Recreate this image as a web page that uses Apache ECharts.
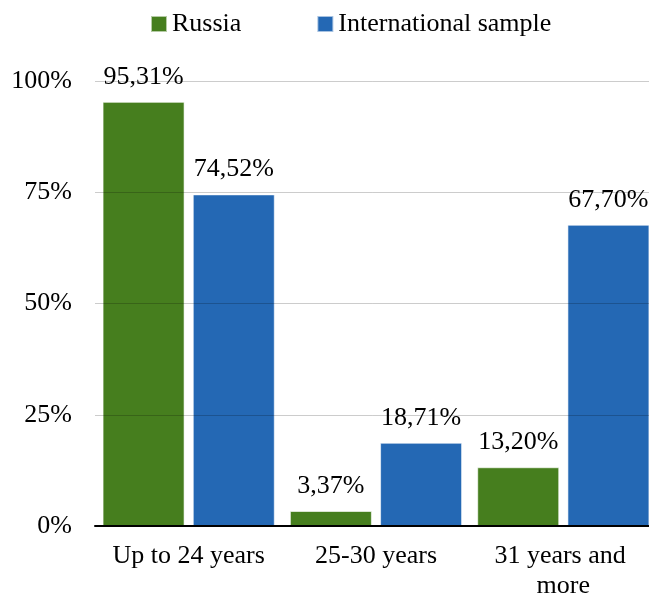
<!DOCTYPE html>
<html>
<head>
<meta charset="utf-8">
<script src="https://cdn.jsdelivr.net/npm/echarts@6/dist/echarts.min.js"></script>
<style>
  html, body { margin: 0; padding: 0; background: #fff; }
  #chart { width: 649px; height: 601px; }
</style>
</head>
<body>
<div id="chart"></div>
<script>
var categories = ["Up to 24 years", "25-30 years", "31 years and more"];
var seriesNames = ["Russia", "International sample"];
var russia = [95.31, 3.37, 13.20];
var international = [74.52, 18.71, 67.70];
var yTicks = [0, 25, 50, 75, 100];

var font = "'Liberation Serif', 'Times New Roman', serif";
var green = "#467e1e";
var blue = "#2468b4";

function fmt(v) {
  return v.toFixed(2).replace(".", ",") + "%";
}

var myChart = echarts.init(document.getElementById("chart"));

var barLabel = {
  show: true,
  position: "top",
  distance: 12,
  color: "#000",
  fontFamily: font,
  fontSize: 26,
  formatter: function (p) { return fmt(p.value); }
};

var option = {
  animation: false,
  backgroundColor: "#fff",
  textStyle: { fontFamily: font },
  legend: {
    data: seriesNames,
    left: 145,
    top: 6,
    itemWidth: 16,
    itemHeight: 16,
    itemGap: 75,
    icon: "rect",
    textStyle: { color: "#000", fontSize: 26, fontFamily: font }
  },
  grid: {
    left: 95,
    top: 81,
    width: 562,
    height: 445,
    outerBoundsMode: "none",
    containLabel: false
  },
  xAxis: {
    type: "category",
    data: categories,
    z: 5,
    axisLine: { show: true, lineStyle: { color: "#000", width: 2 } },
    axisTick: { show: false },
    axisLabel: {
      color: "#000",
      fontSize: 26,
      fontFamily: font,
      margin: 15,
      lineHeight: 30,
      width: 175,
      overflow: "break",
      interval: 0
    }
  },
  yAxis: {
    type: "value",
    min: yTicks[0],
    max: yTicks[yTicks.length - 1],
    interval: 25,
    z: 5,
    axisLine: { show: false },
    axisTick: { show: false },
    splitLine: { lineStyle: { color: "rgba(0,0,0,0.2)", width: 1 } },
    axisLabel: {
      color: "#000",
      fontSize: 26,
      fontFamily: font,
      margin: 23,
      formatter: "{value}%"
    }
  },
  series: [
    {
      name: seriesNames[0],
      type: "bar",
      data: russia,
      barWidth: 82,
      barGap: "10%",
      itemStyle: { color: green, borderColor: "rgba(255,255,255,0.6)", borderWidth: 1 },
      label: barLabel
    },
    {
      name: seriesNames[1],
      type: "bar",
      data: international,
      barWidth: 82,
      barGap: "10%",
      itemStyle: { color: blue, borderColor: "rgba(255,255,255,0.6)", borderWidth: 1 },
      label: barLabel
    }
  ]
};

myChart.setOption(option);
</script>
</body>
</html>
